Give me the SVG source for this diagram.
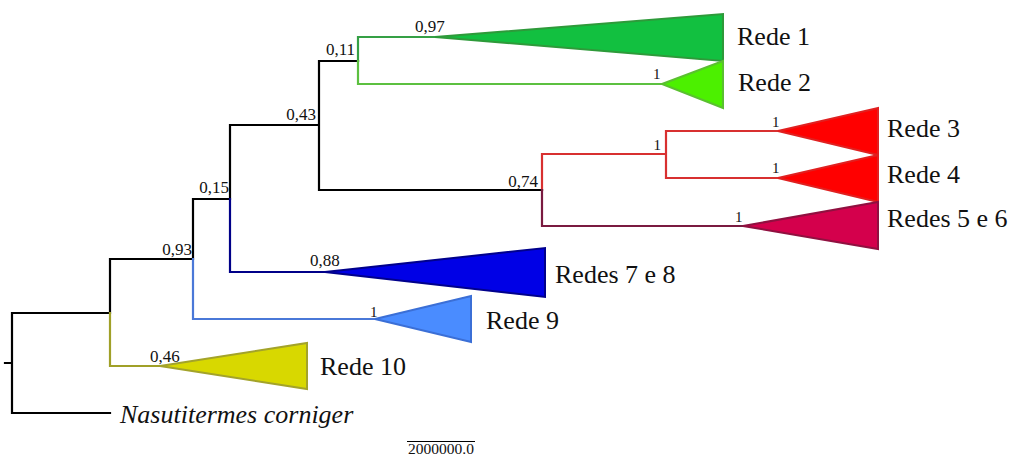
<svg xmlns="http://www.w3.org/2000/svg" width="1021" height="457" viewBox="0 0 1021 457">
<style>
.b{fill:none;stroke-width:2.2;stroke-linecap:square}
.k{stroke:#000}
.tx{font-family:'Liberation Serif','Times New Roman',serif;font-size:26px;fill:#111}
.sm{font-family:'Liberation Serif','Times New Roman',serif;font-size:17px;fill:#111}
.one{font-family:'Liberation Serif','Times New Roman',serif;font-size:15px;fill:#111}
.tri{stroke-width:2;stroke-linejoin:miter}
</style>
<rect width="1021" height="457" fill="#fff"/>
<g id="connectors">
  <path class="b k" d="M5,363 H12 M12,313 V413 H110 M12,313 H110 V259 H193 V199 H230 V125 H319 V61 H358 M319,61 V190 H542 M110,259 V313 M193,199 V259 M230,125 V199"/>
  <path class="b" stroke="#a0a028" d="M110,313 V366 H160"/>
  <path class="b" stroke="#4a78d8" d="M193,259 V319 H375"/>
  <path class="b" stroke="#000088" d="M230,199 V272 H325"/>
  <path class="b" stroke="#35a045" d="M358,61 V37 H435"/>
  <path class="b" stroke="#5cc040" d="M358,61 V84 H662"/>
  <path class="b" stroke="#d83030" d="M542,190 V154 H666 M666,131 V178 M666,131 H778 M666,178 H778"/>
  <path class="b" stroke="#7a1a40" d="M542,190 V226 H743"/>
  <path fill="none" stroke="#000" stroke-width="1" d="M407,441.5 H475"/>
</g>
<g id="node-rede1">
  <polygon class="tri" points="435,37 723,14 723,61" fill="#12c040" stroke="#2e9a3a"/>
  <text class="sm" x="415" y="32">0,97</text>
  <text class="tx" x="737" y="45">Rede 1</text>
</g>
<g id="node-rede2">
  <polygon class="tri" points="662,84 723,61 723,108" fill="#4cf000" stroke="#5ac030"/>
  <text class="one" x="653" y="79">1</text>
  <text class="tx" x="738" y="91">Rede 2</text>
</g>
<g id="node-rede3">
  <polygon class="tri" points="778,131 878,108 878,155" fill="#ff0000" stroke="#e02020"/>
  <text class="one" x="772" y="127">1</text>
  <text class="tx" x="887" y="137">Rede 3</text>
</g>
<g id="node-rede4">
  <polygon class="tri" points="778,178 878,155 878,202" fill="#ff0000" stroke="#e02020"/>
  <text class="one" x="772" y="173">1</text>
  <text class="tx" x="887" y="183">Rede 4</text>
</g>
<g id="node-redes56">
  <polygon class="tri" points="743,226 878,202 878,249" fill="#d4004c" stroke="#901040"/>
  <text class="one" x="735" y="222">1</text>
  <text class="tx" x="887" y="227">Redes 5 e 6</text>
</g>
<g id="node-redes78">
  <polygon class="tri" points="325,272 545,248 545,297" fill="#0000e6" stroke="#00008c"/>
  <text class="sm" x="310" y="266">0,88</text>
  <text class="tx" x="555" y="283">Redes 7 e 8</text>
</g>
<g id="node-rede9">
  <polygon class="tri" points="375,319 471,296 471,342" fill="#4a8cff" stroke="#3b6fd6"/>
  <text class="one" x="370" y="317">1</text>
  <text class="tx" x="486" y="329">Rede 9</text>
</g>
<g id="node-rede10">
  <polygon class="tri" points="160,366 307,343 307,389" fill="#d8d800" stroke="#a3a32a"/>
  <text class="sm" x="150" y="362">0,46</text>
  <text class="tx" x="320" y="375">Rede 10</text>
</g>
<g id="node-nasutitermes">
  <text class="tx" x="120" y="423" font-style="italic">Nasutitermes corniger</text>
</g>
<g id="internal-labels">
  <text class="sm" x="355" y="55" text-anchor="end">0,11</text>
  <text class="sm" x="316" y="120" text-anchor="end">0,43</text>
  <text class="sm" x="229" y="193" text-anchor="end">0,15</text>
  <text class="sm" x="192" y="255" text-anchor="end">0,93</text>
  <text class="sm" x="538" y="187" text-anchor="end">0,74</text>
  <text class="one" x="661" y="150" text-anchor="end">1</text>
</g>
<g id="scale">
  <text x="441" y="454" text-anchor="middle" font-family="'Liberation Serif','Times New Roman',serif" font-size="15.5" fill="#111">2000000.0</text>
</g>
</svg>
